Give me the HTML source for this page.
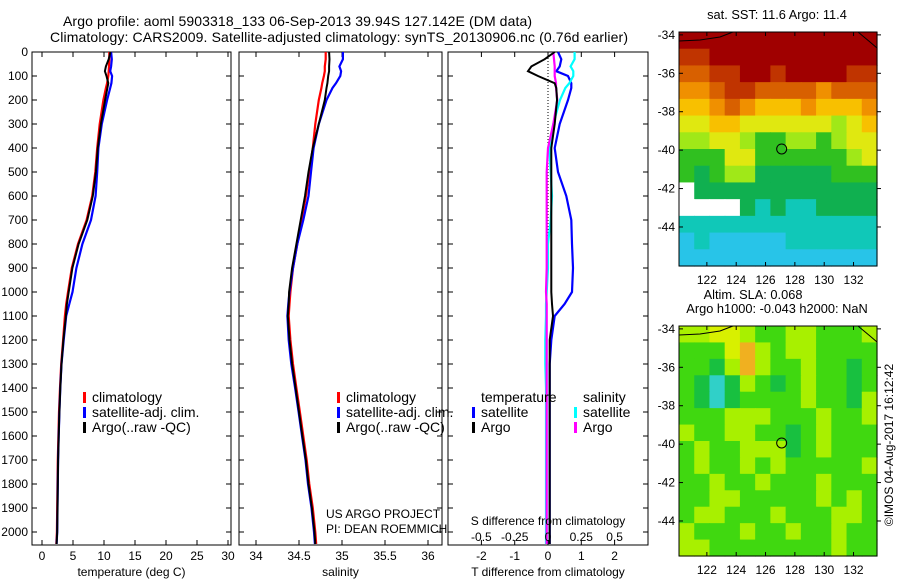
<!DOCTYPE html>
<html><head><meta charset="utf-8"><style>
body{margin:0;background:#fff;}
svg text{font-family:"Liberation Sans",sans-serif;font-size:12px;fill:#000;}
svg text.big{font-size:14px;}
svg text.mid{font-size:12.8px;}
</style></head><body>
<svg id="c" width="900" height="580" xmlns="http://www.w3.org/2000/svg"></svg>
<script>
const depths=[0,30,60,80,100,130,150,200,300,400,500,600,700,800,900,1000,1050,1100,1200,1300,1400,1500,1600,1700,1800,1900,2000,2050];
const tempClim=[10.85,10.85,10.8,10.75,10.7,10.5,10.3,9.9,9.3,8.9,8.6,8.1,7.2,5.8,4.8,4.2,3.9,3.7,3.4,3.1,2.9,2.75,2.65,2.55,2.5,2.45,2.4,2.3];
const dTArgo=[0.2,-0.1,-0.5,-0.6,-0.3,0.2,0.25,0.27,0.2,0.1,0.1,0.1,0.1,0.1,0.1,0.1,0.12,0.15,0.05,0.05,0.05,0.05,0.05,0.05,0.05,0.05,0.05,0.05];
const dTSat=[0.3,0.4,0.35,0.25,0.6,0.7,0.7,0.6,0.35,0.2,0.3,0.55,0.7,0.72,0.75,0.72,0.5,0.2,0.1,0.05,0.05,0.05,0.05,0.05,0.05,0.05,0.05,0.05];
const salClim=[34.81,34.81,34.8,34.8,34.79,34.77,34.76,34.73,34.69,34.66,34.62,34.58,34.53,34.48,34.43,34.40,34.39,34.38,34.40,34.43,34.47,34.51,34.55,34.59,34.62,34.66,34.69,34.70];
const dSArgo=[0.04,0.045,0.05,0.05,0.05,0.06,0.06,0.07,0.04,0.0,-0.01,-0.01,-0.01,-0.01,-0.01,-0.015,-0.01,-0.01,-0.01,-0.01,-0.01,-0.01,-0.01,-0.01,-0.01,-0.01,-0.01,-0.01];
const dSSat=[0.2,0.2,0.17,0.19,0.19,0.16,0.13,0.09,0.04,0.01,0.02,0.03,0.02,0.0,0.0,-0.01,-0.015,-0.015,-0.02,-0.02,-0.015,-0.015,-0.015,-0.015,-0.015,-0.015,-0.015,-0.015];
const depthTicks=[0,100,200,300,400,500,600,700,800,900,1000,1100,1200,1300,1400,1500,1600,1700,1800,1900,2000];
const tempTicks=[0,5,10,15,20,25,30];
const salTicks=[34,34.5,35,35.5,36];
const salTickLabels=["34","34.5","35","35.5","36"];
const dTTicks=[-2,-1,0,1,2];
const dSTicks=[-0.5,-0.25,0,0.25,0.5];
const dSTickLabels=["-0.5","-0.25","0","0.25","0.5"];
const sstGrid=[
[10,10,10,10,10,10,10,10,10,10,10,10,10],
[9,9,10,10,10,10,10,10,10,10,10,10,10],
[8,8,9,9,10,10,9,10,10,10,10,9,9],
[7,7,8,9,9,8,8,8,8,7,8,8,8],
[6,6,7,8,7,6,6,6,7,6,6,6,7],
[5,5,6,6,5,5,5,5,5,5,4,5,6],
[4,4,5,5,4,3,3,4,4,3,4,5,5],
[3,3,3,5,5,3,3,3,3,3,3,4,5],
[3,2,3,4,4,2,2,2,2,2,3,3,3],
[-1,2,2,2,2,2,2,2,2,2,2,2,2],
[-1,-1,-1,-1,2,1,2,1,1,2,2,2,2],
[1,1,1,1,1,1,1,1,1,1,1,1,1],
[0,1,0,0,0,0,0,1,1,1,1,1,1],
[0,0,0,0,0,0,0,0,0,0,0,0,0]];
const slaGrid=[
[3,3,4,4,3,2,2,3,3,2,2,2,3],
[2,2,2,4,5,3,2,3,3,2,2,2,2],
[2,2,1,3,5,3,2,2,3,2,2,1,2],
[2,1,0,1,3,2,1,2,3,2,2,1,2],
[2,1,0,1,2,2,2,2,3,2,2,1,3],
[2,2,2,3,3,3,2,2,2,3,2,2,3],
[3,2,2,3,3,2,2,1,2,3,2,2,2],
[2,3,2,2,3,3,3,1,2,3,2,2,2],
[2,3,2,2,3,2,3,2,2,2,2,2,3],
[2,2,3,2,2,3,2,2,2,3,2,2,2],
[2,2,3,3,2,2,2,2,2,3,2,3,2],
[2,3,3,2,2,2,3,2,2,2,3,3,2],
[3,2,2,2,3,2,2,3,2,2,3,2,2],
[3,3,2,2,2,2,2,2,2,2,3,2,2]];
const lonTicks=[122,124,126,128,130,132];
const latTicks=[-34,-36,-38,-40,-42,-44];
const argoLon=127.1, argoLat=-39.94;

const NS="http://www.w3.org/2000/svg";
const svg=document.getElementById('c');
function el(tag,attrs,parent){const e=document.createElementNS(NS,tag);for(const k in attrs)e.setAttribute(k,attrs[k]);(parent||svg).appendChild(e);return e;}
function txt(x,y,s,anchor,parent){const t=el('text',{x:x,y:y,'text-anchor':anchor||'start'},parent);t.textContent=s;return t;}

const yD=d=>52+d*0.24;
const PB=545;
const xT=v=>42+v*6.2;
const xS=v=>256+(v-34)*86;
const xDT=v=>548+v*33.3;
const xDS=v=>548+v*133.2;

const tArgo=tempClim.map((v,i)=>v+dTArgo[i]);
const tSat=tempClim.map((v,i)=>v+dTSat[i]);
const sArgo=salClim.map((v,i)=>v+dSArgo[i]);
const sSat=salClim.map((v,i)=>v+dSSat[i]);

function panel(name,x0,x1,xfn,ticks,labels,title){
  const g=el('g',{});
  
  
  const r=el('rect',{x:x0,y:52,width:x1-x0,height:PB-52,fill:'none',stroke:'#000','stroke-width':1},g);
  
  
  depthTicks.forEach(d=>{
    el('line',{x1:x0,x2:x0+5,y1:yD(d),y2:yD(d),stroke:'#000'},g);
    el('line',{x1:x1-5,x2:x1,y1:yD(d),y2:yD(d),stroke:'#000'},g);
  });
  ticks.forEach((v,i)=>{
    const x=xfn(v);
    el('line',{x1:x,x2:x,y1:PB,y2:PB-5,stroke:'#000'},g);
    el('line',{x1:x,x2:x,y1:52,y2:57,stroke:'#000'},g);
    const t=txt(x,560,labels[i],'middle',g);
    
    
  });
  const t=txt((x0+x1)/2,576,title,'middle',g);
  
  
  return g;
}
function line(vals,xfn,color,name,w,parent){
  const pts=vals.map((v,i)=>xfn(v).toFixed(1)+','+yD(depths[i]).toFixed(1)).join(' ');
  const p=el('polyline',{points:pts,fill:'none',stroke:color,'stroke-width':w||2.2},parent);
  
  
  return p;
}
function legendEntry(x,y,color,label,parent){
  const g=el('g',{},parent);
  
  
  if(color) el('rect',{x:x,y:y-10,width:3,height:11,fill:color},g);
  const t=txt(x+9,y,label,'start',g);
  t.setAttribute('class','big');
}

// titles
let t=txt(63,26,'Argo profile: aoml 5903318_133 06-Sep-2013 39.94S 127.142E (DM data)','start');
t.setAttribute('class','big');
t.setAttribute('textLength','469');


t=txt(50,42,'Climatology: CARS2009. Satellite-adjusted climatology: synTS_20130906.nc (0.76d earlier)','start');
t.setAttribute('class','big');
t.setAttribute('textLength','578');



// depth labels
depthTicks.forEach(d=>{const l=txt(28,yD(d)+4,String(d),'end');
  
  });

// panel 1
const p1=panel('temperature-panel',32,231,xT,tempTicks,tempTicks.map(String),'temperature (deg C)');
line(tempClim,xT,'#f00','temp-climatology-line',2.2,p1);
line(tSat,xT,'#00f','temp-satellite-line',2.2,p1);
line(tArgo,xT,'#000','temp-argo-line',2,p1);
legendEntry(83,402,'#f00','climatology',p1);
legendEntry(83,417,'#00f','satellite-adj. clim.',p1);
legendEntry(83,432,'#000','Argo(..raw -QC)',p1);

// panel 2
const p2=panel('salinity-panel',239,442,xS,salTicks,salTickLabels,'salinity');
line(salClim,xS,'#f00','sal-climatology-line',2.2,p2);
line(sSat,xS,'#00f','sal-satellite-line',2.2,p2);
line(sArgo,xS,'#000','sal-argo-line',2,p2);
legendEntry(337,402,'#f00','climatology',p2);
legendEntry(337,417,'#00f','satellite-adj. clim.',p2);
legendEntry(337,432,'#000','Argo(..raw -QC)',p2);
txt(326,518,'US ARGO PROJECT','start',p2);
txt(326,533,'PI: DEAN ROEMMICH','start',p2);

// panel 3
const p3=panel('difference-panel',448,648,xDT,dTTicks,dTTicks.map(String),'T difference from climatology');
el('line',{x1:548,x2:548,y1:52,y2:yD(800),stroke:'#000','stroke-dasharray':'1,2'},p3);
line(dTSat,xDT,'#00f','dT-satellite-line',2.2,p3);
line(dSSat,xDS,'#0ff','dS-satellite-line',2.2,p3);
line(dSArgo,xDS,'#f0f','dS-argo-line',2.2,p3);
line(dTArgo,xDT,'#000','dT-argo-line',2,p3);
let tt=txt(481,402,'temperature','start',p3); tt.setAttribute('class','big');
tt=txt(583,402,'salinity','start',p3); tt.setAttribute('class','big');
legendEntry(472,417,'#00f','satellite',p3);
legendEntry(472,432,'#000','Argo',p3);
legendEntry(574,417,'#0ff','satellite',p3);
legendEntry(574,432,'#f0f','Argo',p3);
txt(548,525,'S difference from climatology','middle',p3);
dSTicks.forEach((v,i)=>{const l=txt(xDS(v),541,dSTickLabels[i],'middle',p3);
  
  });

// maps
const sstColors={"-1":"#ffffff","0":"#28c4e8","1":"#10c8b8","2":"#10b050","3":"#30c020","4":"#a0e818","5":"#e0e810","6":"#f8c000","7":"#f09000","8":"#d86000","9":"#c03400","10":"#a00000"};
const slaColors={"0":"#30d0c8","1":"#18c040","2":"#40d810","3":"#a8f000","4":"#d8f000","5":"#f0b020"};
const LON0=120.1,LON1=133.6;
function map(name,top,bottom,grid,colors,titleLines){
  const x0=679,x1=877;
  const latTop=-33.85, latBot=-34-(bottom-top-3)/19.2;
  const xL=v=>x0+(v-LON0)/(LON1-LON0)*(x1-x0);
  const yL=v=>top+(latTop-v)/(latTop-latBot)*(bottom-top);
  const g=el('g',{});
  
  
  const rows=grid.length, cols=grid[0].length;
  const cw=(x1-x0)/cols, ch=(bottom-top)/rows;
  grid.forEach((row,r)=>row.forEach((v,c)=>{
    const cell=el('rect',{x:(x0+c*cw).toFixed(2),y:(top+r*ch).toFixed(2),width:(cw+0.6).toFixed(2),height:(ch+0.6).toFixed(2),fill:colors[String(v)]},g);
    
    
  }));
  el('polyline',{points:`${x0},${top+9} 700,${top+8} 720,${top+5} 733,${top}`,fill:'none',stroke:'#000','stroke-width':1},g);
  el('polyline',{points:`858,${top} 870,${top+10} ${x1},${top+16}`,fill:'none',stroke:'#000','stroke-width':1},g);
  el('rect',{x:x0,y:top,width:x1-x0,height:bottom-top,fill:'none',stroke:'#000'},g);
  lonTicks.forEach(v=>{const x=xL(v);
    el('line',{x1:x,x2:x,y1:bottom,y2:bottom-4,stroke:'#000'},g);
    el('line',{x1:x,x2:x,y1:top,y2:top+4,stroke:'#000'},g);
    txt(x,bottom+18,String(v),'middle',g);});
  latTicks.forEach(v=>{const y=yL(v);
    el('line',{x1:x0,x2:x0+4,y1:y,y2:y,stroke:'#000'},g);
    el('line',{x1:x1,x2:x1+4,y1:y,y2:y,stroke:'#000'},g);
    txt(x0-4,y+4,String(v),'end',g);});
  const m=el('circle',{cx:xL(argoLon),cy:yL(argoLat),r:5,fill:'none',stroke:'#000'},g);
  
  
  titleLines.forEach((s,i)=>{const tl=txt(titleLines.length>1&&i==0?753:777,top-(titleLines.length-i)*14+1,s,'middle',g);tl.setAttribute('class','mid');});
}
map('sst-map',32,266,sstGrid,sstColors,['sat. SST: 11.6 Argo: 11.4']);
map('sla-map',326,556,slaGrid,slaColors,['Altim. SLA: 0.068','Argo h1000: -0.043 h2000: NaN']);

const cp=txt(0,0,'©IMOS 04-Aug-2017 16:12:42','middle');
cp.setAttribute('transform','translate(893,445) rotate(-90)');


</script>
</body></html>
